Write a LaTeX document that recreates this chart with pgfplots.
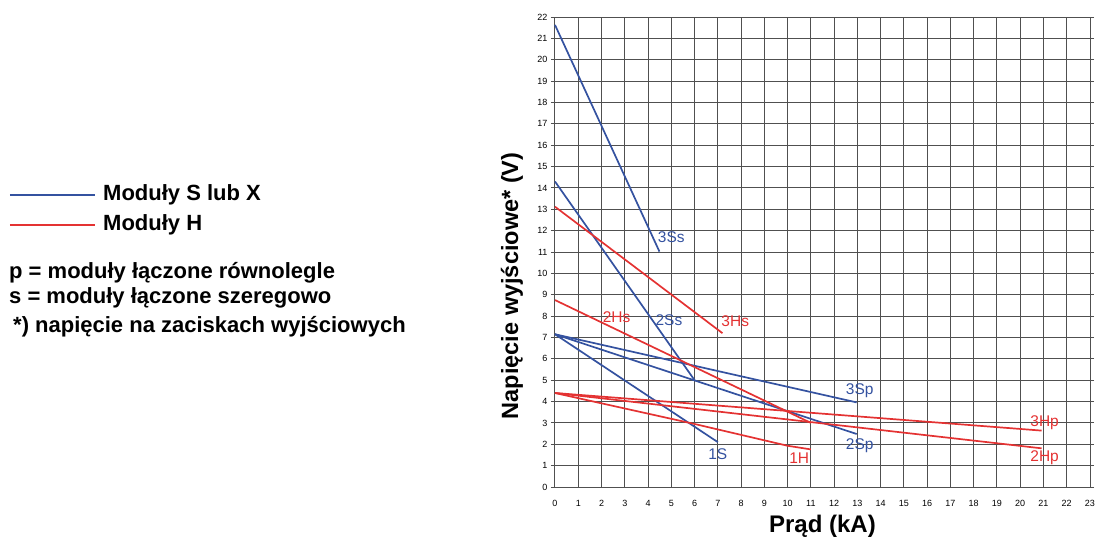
\documentclass[border=0pt]{standalone}
\usepackage{pgfplots}
\pgfplotsset{compat=1.18}
\usepackage{fontspec}
\setmainfont{Liberation Sans}
\definecolor{sblue}{RGB}{52,82,160}
\definecolor{hred}{RGB}{228,50,50}
\definecolor{gridc}{RGB}{80,80,80}
\begin{document}
\begin{tikzpicture}
\path[use as bounding box] (-555pt,-52pt) rectangle (541pt,487pt);
\begin{axis}[
  at={(0pt,0pt)}, anchor=south west,
  scale only axis, width=535pt, height=470pt,
  xmin=0, xmax=23, ymin=0, ymax=22,
  xtick={0,1,...,23}, ytick={0,1,...,22},
  grid=major,
  major grid style={color=gridc, line width=1pt},
  axis line style={color=gridc, line width=1pt},
  tick align=outside,
  major tick length=4pt,
  ytick style={color=gridc, line width=1pt},
  xtick style={draw=none},
  tick label style={font=\fontsize{9}{10}\selectfont},
  /pgf/number format/assume math mode=true,
  xticklabel style={yshift=-6pt},
  xlabel={\textbf{Prąd (kA)}},
  ylabel={\textbf{Napięcie wyjściowe* (V)}},
  every axis x label/.style={at={(axis description cs:0.5,-0.083)}, anchor=center, font=\fontsize{24}{26}\selectfont},
  every axis y label/.style={at={(axis description cs:-0.0804,0.428)}, rotate=90, anchor=center, font=\fontsize{23.5}{26}\selectfont},
  clip=false,
]
% Moduły S lub X (blue)
\addplot[sblue, line width=1.7pt, no marks] coordinates {(0,21.63) (4.49,11.02)};
\addplot[sblue, line width=1.7pt, no marks] coordinates {(0,14.3) (6,5.0)};
\addplot[sblue, line width=1.7pt, no marks] coordinates {(0,7.15) (7,2.1)};
\addplot[sblue, line width=1.7pt, no marks] coordinates {(0,7.15) (12.97,2.48)};
\addplot[sblue, line width=1.7pt, no marks] coordinates {(0,7.15) (12.97,3.96)};
% Moduły H (red)
\addplot[hred, line width=1.7pt, no marks] coordinates {(0,13.12) (7.2,7.2)};
\addplot[hred, line width=1.7pt, no marks] coordinates {(0,8.75) (11,3.0)};
\addplot[hred, line width=1.7pt, no marks] coordinates {(0,4.4) (6,2.95) (10,1.93) (11,1.76)};
\addplot[hred, line width=1.7pt, no marks] coordinates {(0,4.4) (20.92,1.81)};
\addplot[hred, line width=1.7pt, no marks] coordinates {(0,4.4) (20.92,2.64)};
% curve labels
\begin{scope}[every node/.style={font=\fontsize{15.5}{16}\selectfont}]
\node[sblue] at (axis cs:5.0,11.7) {3Ss};
\node[sblue] at (axis cs:4.9,7.8) {2Ss};
\node[sblue] at (axis cs:7.0,1.55) {1S};
\node[sblue] at (axis cs:13.1,4.5) {3Sp};
\node[sblue] at (axis cs:13.1,1.95) {2Sp};
\node[hred] at (axis cs:2.65,7.97) {2Hs};
\node[hred] at (axis cs:7.75,7.74) {3Hs};
\node[hred] at (axis cs:10.5,1.34) {1H};
\node[hred] at (axis cs:21.05,3.0) {3Hp};
\node[hred] at (axis cs:21.05,1.35) {2Hp};
\end{scope}
\end{axis}
% key on the left
\draw[sblue, line width=2.8pt] (-545pt,292pt) -- (-460pt,292pt);
\draw[hred, line width=2.8pt] (-545pt,262pt) -- (-460pt,262pt);
\begin{scope}[every node/.style={font=\fontsize{22}{24}\selectfont\bfseries, anchor=west, inner sep=0pt}]
\node at (-452pt,292pt) {Moduły S lub X};
\node at (-452pt,262pt) {Moduły H};
\node at (-546pt,214pt) {p = moduły łączone równolegle};
\node at (-546pt,189pt) {s = moduły łączone szeregowo};
\node at (-542pt,160pt) {*) napięcie na zaciskach wyjściowych};
\end{scope}
\end{tikzpicture}
\end{document}
